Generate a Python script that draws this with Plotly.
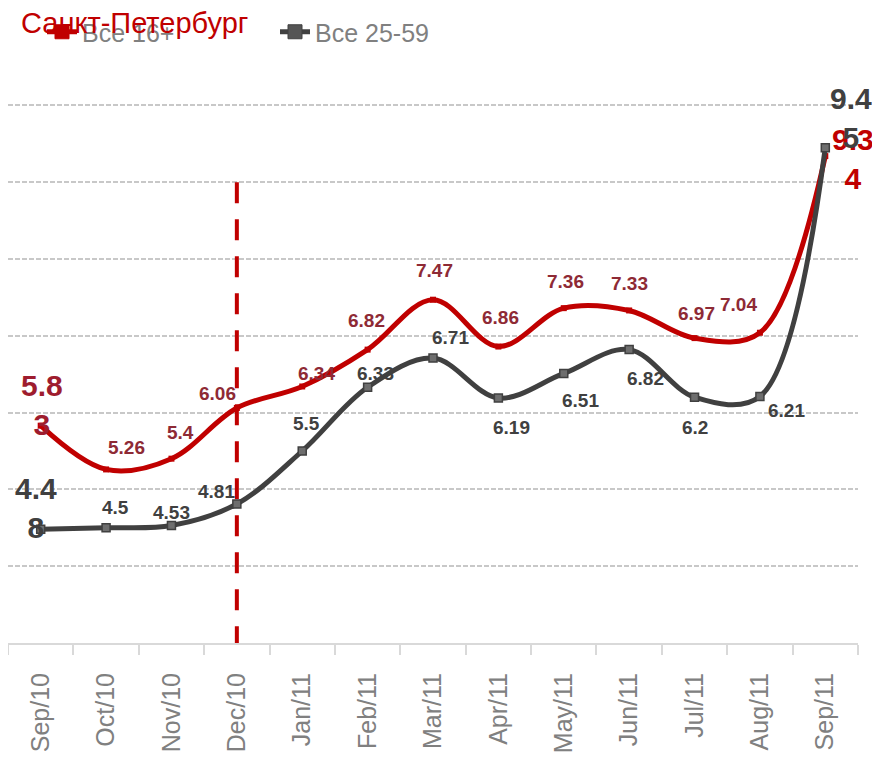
import plotly.graph_objects as go

months = ["Sep/10", "Oct/10", "Nov/10", "Dec/10", "Jan/11", "Feb/11", "Mar/11",
          "Apr/11", "May/11", "Jun/11", "Jul/11", "Aug/11", "Sep/11"]
all_16 = [5.83, 5.26, 5.4, 6.06, 6.34, 6.82, 7.47, 6.86, 7.36, 7.33, 6.97, 7.04, 9.34]
all_25_59 = [4.48, 4.5, 4.53, 4.81, 5.5, 6.33, 6.71, 6.19, 6.51, 6.82, 6.2, 6.21, 9.45]
series_names = ["Все 16+", "Все 25-59"]
title_text = "Санкт-Петербург"
divider_month = "Dec/10"
divider_span = [9, 3]

# label offsets (pixels) – styling only
red_off = [(1, 21), (20, 22), (9, 26), (-19, 14), (14, 13), (-1, 29), (1, 29),
           (2, 29), (2, 27), (0, 27), (2, 25), (-21, 28), (28, -3)]
gray_off = [(-5, 21), (9, 20), (0, 13), (-20, 12), (4, 28), (8, 14), (17, 21),
            (13, -29), (17, -27), (16, -29), (0, -30), (27, -14), (26, 30)]

RED = "#C00000"
GRAY = "#404040"
RED_LBL = "#8E2A35"
FONT = "Arial, Liberation Sans, sans-serif"

fig = go.Figure()
fig.add_trace(go.Scatter(
    x=[divider_month, divider_month], y=divider_span, mode="lines",
    line=dict(color=RED, width=4, dash="21px,16px"), showlegend=False, hoverinfo="skip"))
fig.add_trace(go.Scatter(
    x=months, y=all_16, name=series_names[0], mode="lines+markers", showlegend=False,
    line=dict(color=RED, width=5, shape="spline", smoothing=1),
    marker=dict(symbol="square", size=6, color=RED, line=dict(color=RED, width=0))))
fig.add_trace(go.Scatter(
    x=months, y=all_25_59, name=series_names[1], mode="lines+markers", showlegend=False,
    line=dict(color=GRAY, width=5, shape="spline", smoothing=1),
    marker=dict(symbol="square", size=8, color="#6E6E6E", line=dict(color=GRAY, width=1.5))))

# legend entries (larger symbols, like the original legend)
for name, col, fill in [(series_names[0], RED, RED), (series_names[1], GRAY, "#555555")]:
    fig.add_trace(go.Scatter(
        x=[None], y=[None], name=name, mode="lines+markers",
        line=dict(color=col, width=5),
        marker=dict(symbol="square", size=14, color=fill, line=dict(color=col, width=1))))


def fmt(v, big):
    s = f"{v:g}"
    if big:
        return s[:3] + "<br>" + s[3:]
    return s


annotations = []
n = len(months)
for vals, offs, col, big_cols in [(all_16, red_off, RED_LBL, ("#9E1C2E", RED)),
                                  (all_25_59, gray_off, GRAY, (GRAY, GRAY))]:
    for i, (m, v) in enumerate(zip(months, vals)):
        big = i in (0, n - 1)
        c = col
        if big:
            c = big_cols[0] if i == 0 else big_cols[1]
        annotations.append(dict(
            x=m, y=v, xref="x", yref="y", text="<b>" + fmt(v, big) + "</b>", showarrow=False,
            xanchor="center", yanchor="middle",
            xshift=offs[i][0], yshift=offs[i][1],
            font=dict(family=FONT, size=30 if big else 19, color=c),
        ))

fig.update_layout(
    width=880, height=760,
    margin=dict(l=0, r=30, t=59, b=125, autoexpand=False),
    paper_bgcolor="white", plot_bgcolor="white",
    font=dict(family=FONT),
    title=dict(text=title_text, x=13 / 880, xanchor="left", xref="container",
               y=1 - 15 / 760, yanchor="middle", yref="container",
               pad=dict(l=0, r=0, t=0, b=0),
               font=dict(family=FONT, size=29, color=RED)),
    showlegend=True,
    legend=dict(orientation="h", x=34 / 880, xanchor="left", xref="container",
                y=1 - 24 / 760, yanchor="middle", yref="container",
                font=dict(size=25, color="#808080"), itemsizing="trace",
                entrywidth=188, entrywidthmode="pixels", bgcolor="rgba(0,0,0,0)"),
    annotations=annotations,
    xaxis=dict(type="category", categoryorder="array", categoryarray=months,
               range=[-0.5, len(months) - 0.5], tickson="boundaries",
               ticks="outside", ticklen=10, tickwidth=2, tickcolor="#D9D9D9",
               showline=True, linecolor="#D9D9D9", linewidth=2,
               showgrid=False, tickangle=-90, automargin=False, ticklabelstandoff=18,
               tickfont=dict(family=FONT, size=25, color="#808080")),
    yaxis=dict(range=[3, 10.5], tick0=3, dtick=1, showticklabels=False, automargin=False,
               showgrid=True, gridcolor="#C8C8C8", gridwidth=2, griddash="5px,2px",
               zeroline=False, showline=True, linecolor="#E6E6E6", linewidth=1),
)

fig.write_html("out.html")
